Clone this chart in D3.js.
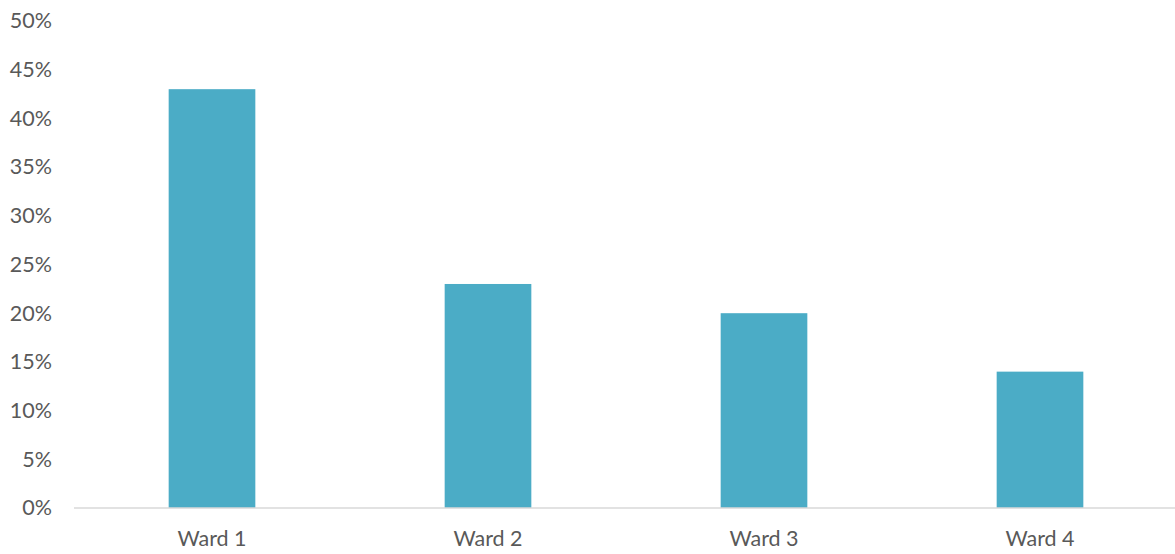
<!DOCTYPE html>
<html><head><meta charset="utf-8">
<script src="https://cdn.jsdelivr.net/npm/d3@7"></script>
<style>body{margin:0;background:#fff}svg{display:block}</style>
</head><body><svg id="c" width="1175" height="554"></svg>
<script>
const categories = ["Ward 1", "Ward 2", "Ward 3", "Ward 4"];
const values = [0.43, 0.23, 0.20, 0.14];
const yTicks = [0, 0.05, 0.10, 0.15, 0.20, 0.25, 0.30, 0.35, 0.40, 0.45, 0.50];

const svg = d3.select("#c");
const x = d3.scaleBand().domain(categories).range([74, 1178]).paddingInner(0.686).paddingOuter(0.343);
const y = d3.scaleLinear().domain([0, 0.5]).range([508, 21]);
const font = "Lato, 'Open Sans', sans-serif";

svg.selectAll("rect.bar").data(values).join("rect")
  .attr("class", "bar")
  .attr("x", (d, i) => x(categories[i]))
  .attr("width", x.bandwidth())
  .attr("y", d => y(d))
  .attr("height", d => y(0) - y(d))
  .attr("fill", "#4BACC6");

const yAxis = svg.append("g").attr("transform", "translate(52,0)")
  .call(d3.axisLeft(y).tickValues(yTicks).tickFormat(d3.format(".0%")).tickSize(0).tickPadding(0));
yAxis.select(".domain").remove();
yAxis.selectAll("text").attr("fill", "#595959").style("font-family", font).style("font-size", "21.5px");

const xAxis = svg.append("g").attr("transform", "translate(0,508)")
  .call(d3.axisBottom(x).tickSize(0).tickPadding(23));
xAxis.select(".domain").attr("stroke", "#d9d9d9").attr("stroke-width", 1.5).attr("d", "M74,0H1175");
xAxis.selectAll("text").attr("fill", "#595959").style("font-family", font).style("font-size", "21.5px");
</script></body></html>
